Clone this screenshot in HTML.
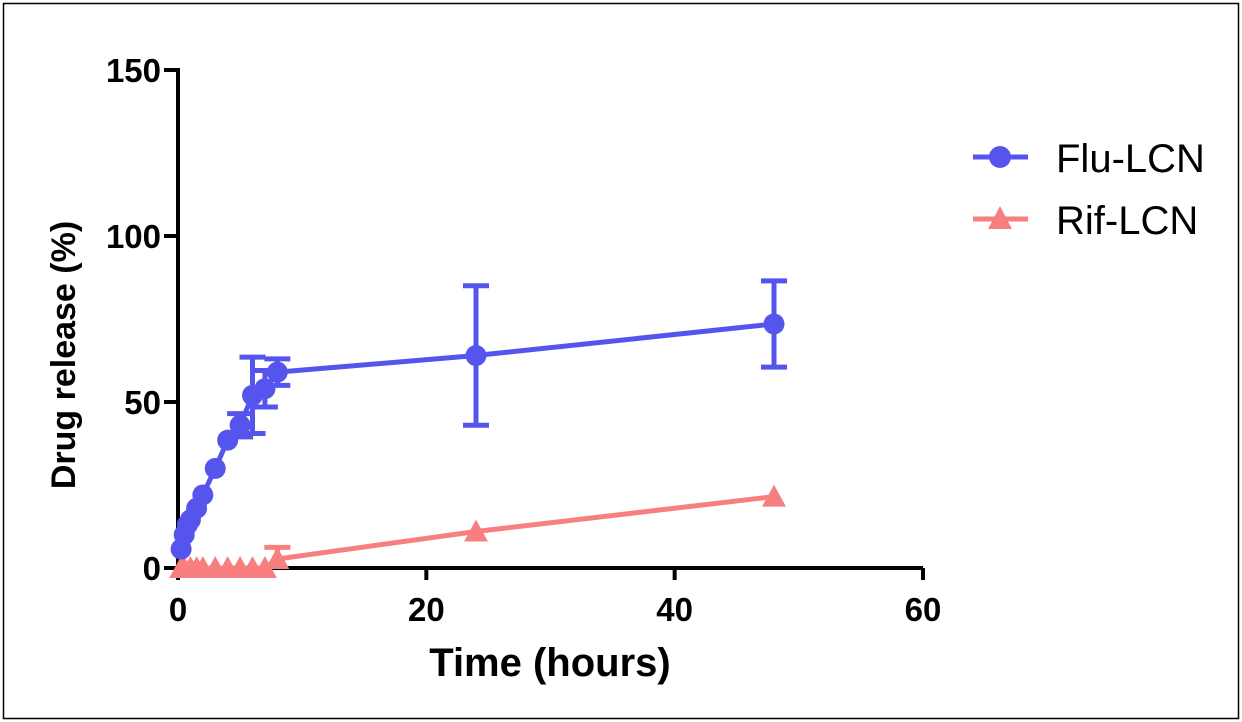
<!DOCTYPE html>
<html><head><meta charset="utf-8"><style>
body{margin:0;background:#fff}
svg{display:block;font-family:"Liberation Sans",Arial,sans-serif}
</style></head><body>
<svg width="1242" height="722" viewBox="0 0 1242 722">
<rect x="3.5" y="3.5" width="1235" height="715" fill="none" stroke="#000" stroke-width="1.5"/>
<g id="plot"></g>
<g>
 <g>
  <line x1="973" y1="157" x2="1028" y2="157" stroke="#5555ee" stroke-width="5"/>
  <circle cx="1000" cy="157" r="11" fill="#5555ee"/>
  <text x="1056" y="172" font-size="40" fill="#000">Flu-LCN</text>
 </g>
 <g>
  <line x1="973" y1="219" x2="1028" y2="219" stroke="#f77f7f" stroke-width="5"/>
  <polygon points="1000,206 1012,229 988,229" fill="#f77f7f"/>
  <text x="1056" y="234" font-size="40" fill="#000">Rif-LCN</text>
 </g>
</g>
</svg>
<script>
const xTicks=[0,20,40,60];
const yTicks=[0,50,100,150];
const fluX=[0.25,0.5,0.75,1,1.5,2,3,4,5,6,7,8,24,48];
const fluY=[5.7,10,13,14.5,18,22,30,38.5,43,52,54,59,64,73.5];
const fluErr=[0,0,0,0,0,0,0,0,3.5,11.5,5.5,4,21,13];
const rifX=[0.25,0.5,1,1.5,2,3,4,5,6,7,8,24,48];
const rifY=[0,0,0,0,0,0,0,0,0,0,2.7,11,21.5];
const rifErr=[0,0,0,0,0,0,0,0,0,0,3.5,0,0];
const X=v=>178+v*(923-178)/60;
const Y=v=>568-v*(568-70)/150;
const NS='http://www.w3.org/2000/svg';
const g=document.getElementById('plot');
function mk(t,a,p){const e=document.createElementNS(NS,t);for(const k in a)e.setAttribute(k,a[k]);(p||g).appendChild(e);return e;}
const ax=mk('line',{x1:X(0),y1:Y(0),x2:X(60),y2:Y(0),stroke:'#000','stroke-width':4});


const ay=mk('line',{x1:X(0),y1:Y(0)+2,x2:X(0),y2:Y(150)-2,stroke:'#000','stroke-width':4});


xTicks.forEach(t=>{mk('line',{x1:X(t),y1:Y(0),x2:X(t),y2:Y(0)+12,stroke:'#000','stroke-width':4});
 const tx=mk('text',{x:X(t),y:Y(0)+53,'font-size':33,'font-weight':'bold','text-anchor':'middle'});tx.textContent=t;
 
 });
yTicks.forEach(t=>{mk('line',{x1:X(0)-14,y1:Y(t),x2:X(0),y2:Y(t),stroke:'#000','stroke-width':4});
 const tx=mk('text',{x:X(0)-17,y:Y(t)+12,'font-size':33,'font-weight':'bold','text-anchor':'end'});tx.textContent=t;
 
 });
const xt=mk('text',{x:550,y:676,'font-size':40,'font-weight':'bold','text-anchor':'middle'});xt.textContent='Time (hours)';


const yt=mk('text',{x:0,y:0,'font-size':34,'font-weight':'bold','text-anchor':'middle',transform:'translate(75,355) rotate(-90)'});yt.textContent='Drug release (%)';


function series(xs,ys,es,col,shape,name){
 mk('polyline',{points:xs.map((x,i)=>X(x)+','+Y(ys[i])).join(' '),fill:'none',stroke:col,'stroke-width':5});
 xs.forEach((x,i)=>{
  if(es[i]>0){const cx=X(x),t=Y(ys[i]+es[i]),b=Y(Math.max(0,ys[i]-es[i]));
   mk('line',{x1:cx,y1:t,x2:cx,y2:b,stroke:col,'stroke-width':5});
   mk('line',{x1:cx-13,y1:t,x2:cx+13,y2:t,stroke:col,'stroke-width':5});
   if(ys[i]-es[i]>0)mk('line',{x1:cx-13,y1:b,x2:cx+13,y2:b,stroke:col,'stroke-width':5});}
  let m;
  if(shape==='c')m=mk('circle',{cx:X(x),cy:Y(ys[i]),r:10.5,fill:col});
  else{const cx=X(x),cy=Y(ys[i]);m=mk('polygon',{points:`${cx},${cy-12} ${cx+12},${cy+10} ${cx-12},${cy+10}`,fill:col});}
  
  
 });
}
series(rifX,rifY,rifErr,'#f77f7f','t','rif');
series(fluX,fluY,fluErr,'#5555ee','c','flu');
</script>
</body></html>
